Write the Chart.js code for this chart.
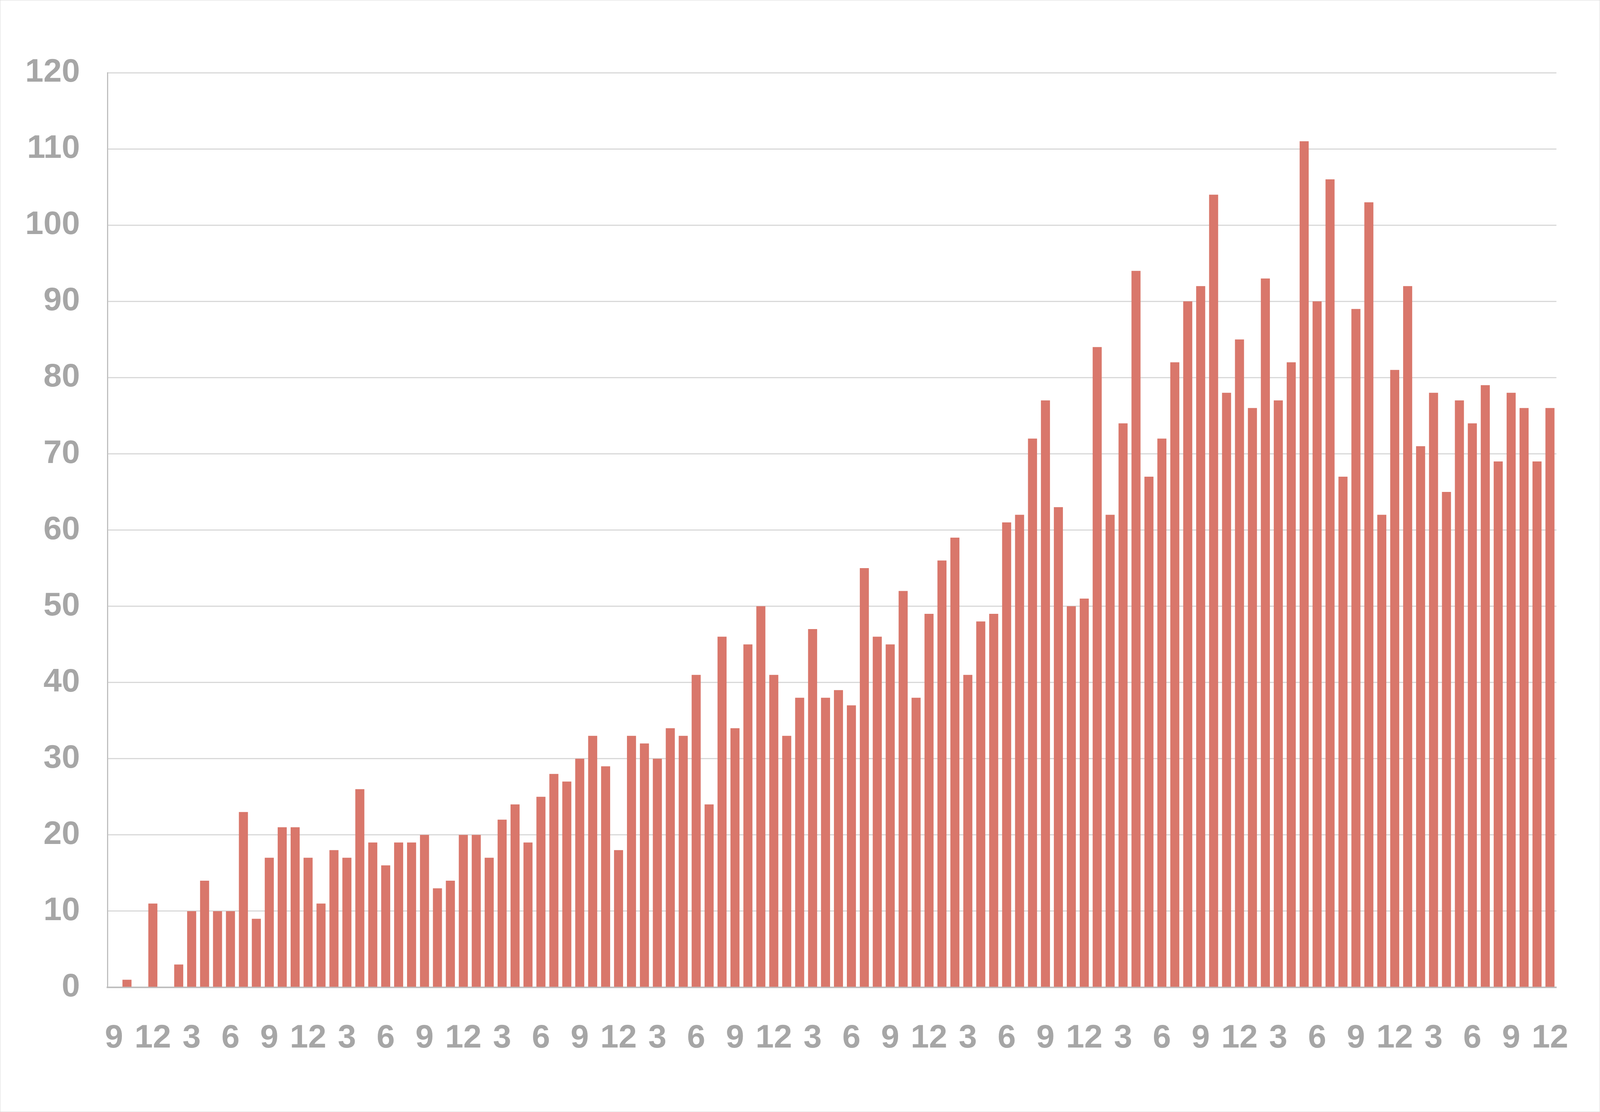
<!DOCTYPE html>
<html lang="en">
<head>
  <meta charset="UTF-8" />
  <title>Monthly counts</title>
  <script src="https://cdn.jsdelivr.net/npm/chart.js"></script>
  <style>
    html, body { margin: 0; padding: 0; background: #fff; overflow: hidden; }
    .wrapper {
      width: 100vw;
      height: 100vh;
      box-sizing: border-box;
      border: 1px solid #d9d9d9;
      position: relative;
    }
  </style>
</head>
<body>
  <div class="wrapper"><canvas id="chart"></canvas></div>

  <script>
    // months run Sep of the first year to Dec nine years later
    const startMonth = 9;
    const values = [
      0, 1, 0, 11, 0, 3, 10, 14, 10, 10, 23, 9,
      17, 21, 21, 17, 11, 18, 17, 26, 19, 16, 19, 19,
      20, 13, 14, 20, 20, 17, 22, 24, 19, 25, 28, 27,
      30, 33, 29, 18, 33, 32, 30, 34, 33, 41, 24, 46,
      34, 45, 50, 41, 33, 38, 47, 38, 39, 37, 55, 46,
      45, 52, 38, 49, 56, 59, 41, 48, 49, 61, 62, 72,
      77, 63, 50, 51, 84, 62, 74, 94, 67, 72, 82, 90,
      92, 104, 78, 85, 76, 93, 77, 82, 111, 90, 106, 67,
      89, 103, 62, 81, 92, 71, 78, 65, 77, 74, 79, 69,
      78, 76, 69, 76
    ];
    const months = values.map((v, i) => ((startMonth - 1 + i) % 12) + 1);
    const yTicks = [0, 10, 20, 30, 40, 50, 60, 70, 80, 90, 100, 110, 120];

    // layout measured on a 5568 x 2846 reference, scaled to the window
    const W = window.innerWidth, H = window.innerHeight;
    const sx = W / 5568, sy = H / 2846;
    const grey = '#a6a6a6';
    const font = { family: 'Liberation Sans, Arial, sans-serif', size: Math.round(84 * sy), weight: 'bold' };

    new Chart(document.getElementById('chart'), {
      type: 'bar',
      data: {
        labels: months,
        datasets: [{
          data: values,
          backgroundColor: '#d9776b',
          barPercentage: 0.7,
          categoryPercentage: 1.0
        }]
      },
      options: {
        responsive: true,
        maintainAspectRatio: false,
        animation: false,
        layout: { padding: { top: 185 * sy, right: 117 * sx, left: 0, bottom: 0 } },
        plugins: { legend: { display: false }, tooltip: { enabled: false } },
        scales: {
          x: {
            grid: { display: false, drawTicks: false },
            border: { color: '#bfbfbf', width: 4 * sy },
            ticks: {
              color: grey, font: font, padding: 80 * sy,
              maxRotation: 0, autoSkip: false,
              callback: (v, i) => (i % 3 === 0 ? months[i] : '')
            },
            afterFit: s => { s.height = 318 * sy; }
          },
          y: {
            min: 0, max: 120,
            afterBuildTicks: s => { s.ticks = yTicks.map(v => ({ value: v })); },
            grid: { color: '#d9d9d9', lineWidth: 3 * sy, drawTicks: false },
            border: { color: '#bfbfbf', width: 4 * sx },
            ticks: { color: grey, font: font, padding: 96 * sx },
            afterFit: s => { s.width = 373 * sx; }
          }
        }
      }
    });
  </script>
</body>
</html>
